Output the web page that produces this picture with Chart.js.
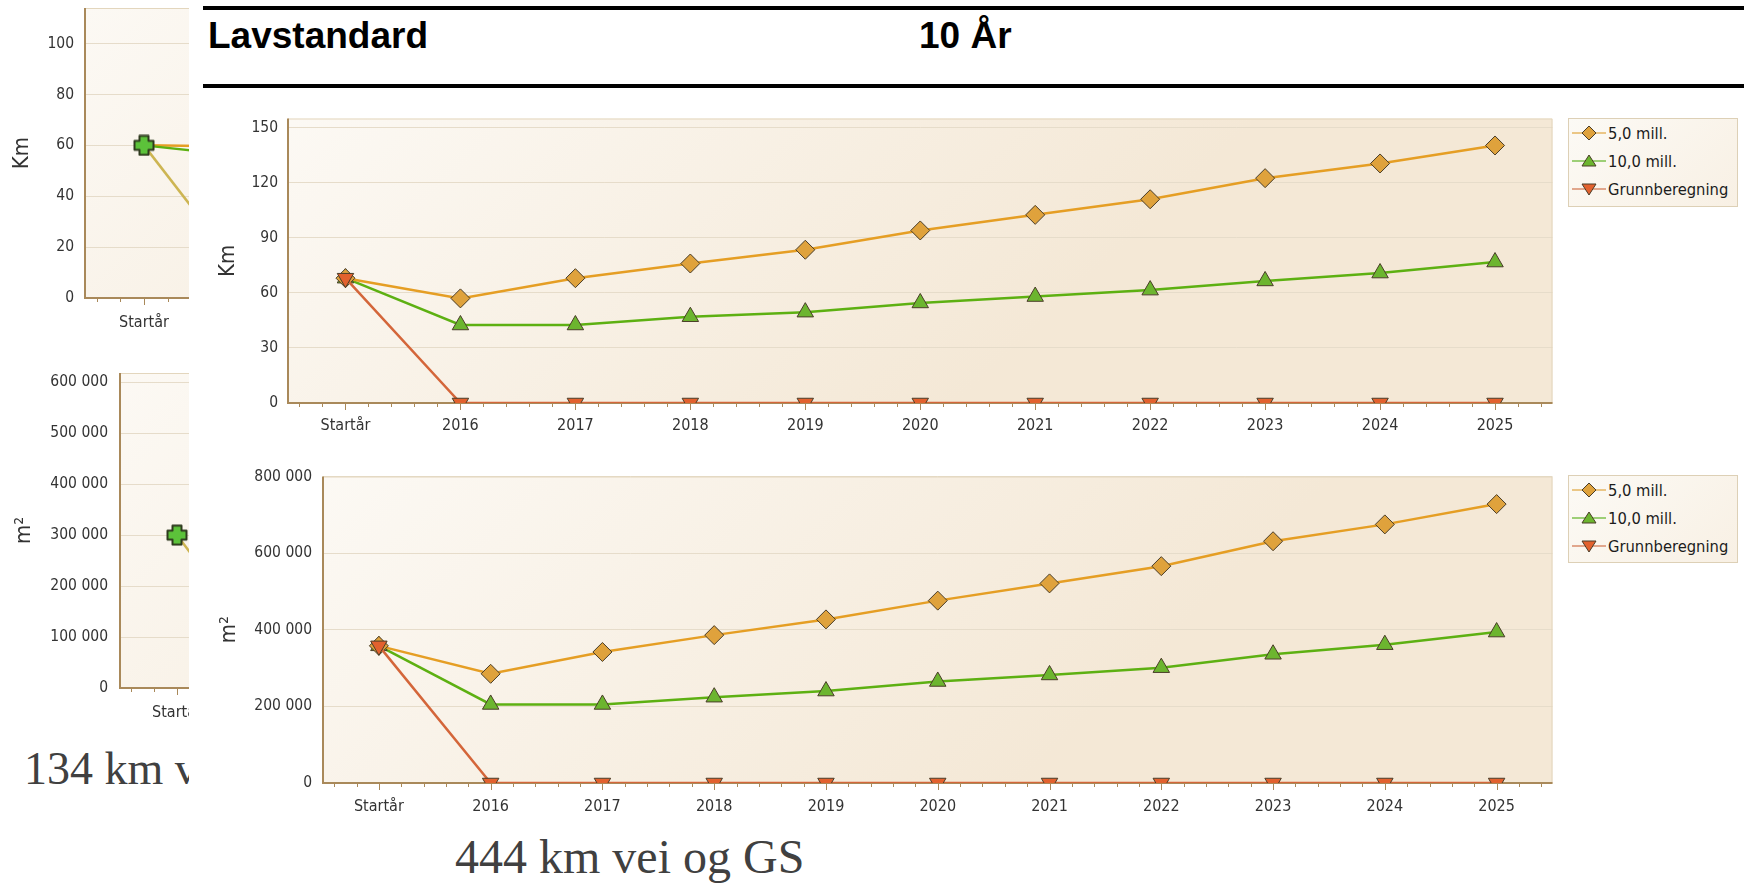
<!DOCTYPE html>
<html>
<head>
<meta charset="utf-8">
<script src="https://cdn.jsdelivr.net/npm/chart.js@4.4.0/dist/chart.umd.min.js"></script>
<style>
body { margin:0; width:1744px; height:883px; background:#fff; position:relative; overflow:hidden; font-family:'DejaVu Sans Condensed','DejaVu Sans',sans-serif; }
canvas { position:absolute; }
.rule { position:absolute; left:203px; right:0; height:4px; background:#000; }
.head { position:absolute; top:15px; font:bold 37px 'Liberation Sans',Arial,sans-serif; color:#000; white-space:nowrap; }
.legend { position:absolute; border:1px solid #DDD0B6; background:linear-gradient(135deg,#FCFAF5,#F8F0E4); box-sizing:border-box; }
.legend .item { display:flex; align-items:center; height:28px; font-size:16.4px; color:#1c1c1c; white-space:nowrap; }
.legend svg { margin-left:3px; margin-right:2px; }
.serif { position:absolute; font-family:'Liberation Serif','Times New Roman',serif; color:#404040; line-height:48px; white-space:nowrap; }
#leftClip { position:absolute; left:0; top:0; width:189px; height:883px; overflow:hidden; }
</style>
</head>
<body>
<div id="leftClip">
  <canvas id="leftKm" width="340" height="344" style="left:0;top:-4px"></canvas>
  <canvas id="leftM2" width="360" height="374" style="left:0;top:361px"></canvas>
  <div class="serif" style="left:24px;top:745px;font-size:46px">134 km v</div>
</div>

<div class="rule" style="top:6px"></div>
<div class="head" style="left:208px">Lavstandard</div>
<div class="head" style="left:919px">10 År</div>
<div class="rule" style="top:84px"></div>

<canvas id="kmChart" width="1360" height="337" style="left:203px;top:108px"></canvas>
<div class="legend" id="legend1" style="left:1568px;top:118px;width:170px;height:89px"></div>

<canvas id="m2Chart" width="1360" height="355" style="left:203px;top:466px"></canvas>
<div class="legend" id="legend2" style="left:1568px;top:475px;width:170px;height:88px"></div>

<div class="serif" style="left:455px;top:833px;font-size:48px">444 km vei og GS</div>

<script>
// categorieën (x-as)
const categories = ['Startår','2016','2017','2018','2019','2020','2021','2022','2023','2024','2025'];
const seriesNames = ['5,0 mill.','10,0 mill.','Grunnberegning'];

// bovenste grafiek: Km
const km5 = [68, 57, 68, 76, 83.5, 94, 102.5, 111, 122.5, 130.5, 140.3];
const km10 = [68, 42.5, 42.5, 47, 49.5, 54.5, 58, 61.5, 66.5, 70.8, 76.8];
const kmGrunn = [68, 0, 0, 0, 0, 0, 0, 0, 0, 0, 0];
const kmTicks = [0, 30, 60, 90, 120, 150];

// onderste grafiek: m²
const m2_5 = [358000, 285000, 342000, 386000, 427000, 476000, 521000, 566000, 631000, 675000, 728000];
const m2_10 = [358000, 205000, 205000, 224000, 240000, 265000, 282000, 301000, 336000, 361000, 394000];
const m2Grunn = [358000, 0, 0, 0, 0, 0, 0, 0, 0, 0, 0];
const m2Ticks = [0, 200000, 400000, 600000, 800000];

// de afgesneden grafieken links
const leftCategories = ['Startår','2016'];
const leftKm5 = [60, 59.5];
const leftKm10 = [60, 55];
const leftKmGrunn = [60, 0];
const leftKmTicks = [0, 20, 40, 60, 80, 100];
const leftM2Grunn = [300000, 0];
const leftM2Ticks = [0, 100000, 200000, 300000, 400000, 500000, 600000];

// kleuren
const orange = { line:'#E59E24', fill:'#DFA23C', pale:'#E6B662' };
const green = { line:'#5DB012', fill:'#6CB52F', pale:'#7EC24E' };
const red = { line:'#D4663A', fill:'#E2612E', pale:'#D98C6C' };
const olive = { line:'#CDB552', fill:'#CDB552', pale:'#CDB552' };

Chart.defaults.font.family = "'DejaVu Sans Condensed','DejaVu Sans',sans-serif";
Chart.defaults.color = '#333';

// getallen met spatie als duizendtal-scheiding
function spaced(v) {
  return String(v).replace(/\B(?=(\d{3})+(?!\d))/g, ' ');
}

// achtergrond, randen en kleine streepjes onder de x-as
const plotStyle = {
  id: 'plotStyle',
  beforeDraw(chart) {
    const a = chart.chartArea, ctx = chart.ctx;
    const g = ctx.createLinearGradient(a.left, a.top, a.left + (a.bottom - a.top) * 1.6, a.bottom + 200);
    g.addColorStop(0, '#FCF9F4');
    g.addColorStop(1, '#F4E8D6');
    ctx.save();
    ctx.fillStyle = g;
    ctx.fillRect(a.left, a.top, a.right - a.left, a.bottom - a.top);
    ctx.restore();
  },
  beforeDatasetsDraw(chart) {
    const a = chart.chartArea, ctx = chart.ctx;
    ctx.save();
    ctx.strokeStyle = '#E3D6BD';
    ctx.lineWidth = 1;
    ctx.beginPath();
    ctx.moveTo(a.left, a.top + 0.5);
    ctx.lineTo(a.right - 0.5, a.top + 0.5);
    ctx.lineTo(a.right - 0.5, a.bottom);
    ctx.stroke();
    ctx.strokeStyle = '#A9895A';
    ctx.lineWidth = 2;
    ctx.beginPath();
    ctx.moveTo(a.left, a.top);
    ctx.lineTo(a.left, a.bottom);
    ctx.lineTo(a.right, a.bottom);
    ctx.stroke();
    const x = chart.scales.x;
    const step = (x.getPixelForValue(1) - x.getPixelForValue(0)) / 5;
    ctx.lineWidth = 1;
    for (let i = 0; i < x.ticks.length; i++) {
      const px = x.getPixelForValue(i);
      for (let k = -2; k <= 2; k++) {
        const tx = Math.round(px + k * step) + 0.5;
        if (tx < a.left + 3 || tx > a.right) continue;
        ctx.beginPath();
        ctx.moveTo(tx, a.bottom);
        ctx.lineTo(tx, a.bottom + (k === 0 ? 7 : 4));
        ctx.stroke();
      }
    }
    ctx.restore();
  }
};

// groen plus-teken voor de linker grafieken
function plusMarker() {
  const c = document.createElement('canvas');
  c.width = 22; c.height = 22;
  const ctx = c.getContext('2d');
  const m = 11, w = 4.5, e = 9.5;
  ctx.beginPath();
  ctx.moveTo(m - w, m - e); ctx.lineTo(m + w, m - e); ctx.lineTo(m + w, m - w);
  ctx.lineTo(m + e, m - w); ctx.lineTo(m + e, m + w); ctx.lineTo(m + w, m + w);
  ctx.lineTo(m + w, m + e); ctx.lineTo(m - w, m + e); ctx.lineTo(m - w, m + w);
  ctx.lineTo(m - e, m + w); ctx.lineTo(m - e, m - w); ctx.lineTo(m - w, m - w);
  ctx.closePath();
  ctx.lineJoin = 'round';
  ctx.fillStyle = '#5CC23A';
  ctx.fill();
  ctx.strokeStyle = '#2E3A1E';
  ctx.lineWidth = 2;
  ctx.stroke();
  return c;
}

function serie(label, data, col, style, rotation, radius, order) {
  return {
    label: label,
    data: data,
    borderColor: col.line,
    backgroundColor: col.fill,
    pointBackgroundColor: col.fill,
    pointBorderColor: '#4A3D28',
    pointBorderWidth: 1,
    pointStyle: style,
    pointRotation: rotation,
    pointRadius: radius,
    pointHoverRadius: radius,
    borderWidth: 2.5,
    tension: 0,
    order: order,
    clip: { left: 20, top: 20, right: 20, bottom: 0 }
  };
}

function makeChart(id, cats, datasets, y) {
  return new Chart(document.getElementById(id), {
    type: 'line',
    data: { labels: cats, datasets: datasets },
    plugins: [plotStyle],
    options: {
      responsive: false,
      animation: false,
      layout: { padding: { top: y.padTop, right: y.padRight, left: 0, bottom: 0 } },
      plugins: { legend: { display: false }, tooltip: { enabled: false } },
      scales: {
        x: {
          offset: true,
          grid: { display: false, drawTicks: false },
          border: { display: false },
          ticks: { padding: y.xPad, font: { size: 16 }, maxRotation: 0, autoSkip: false },
          afterFit: s => { s.height = y.xHeight; s.paddingLeft = 0; s.paddingRight = 0; }
        },
        y: {
          min: 0,
          max: y.max,
          grid: { color: '#E6DCCA', drawTicks: false },
          border: { display: false },
          // kleine lineHeight zodat de labels de bovenmarge niet oprekken
          ticks: { padding: y.tickPad, font: { size: 15.5, lineHeight: 0.6 }, callback: v => spaced(v) },
          afterBuildTicks: s => { s.ticks = y.ticks.map(v => ({ value: v })); },
          title: { display: true, text: y.title, font: { size: 22 }, color: '#333', padding: { top: y.titlePad, bottom: 0 } },
          afterFit: s => { s.width = y.width; s.paddingTop = 0; s.paddingBottom = 0; }
        }
      }
    }
  });
}

// hoofdgrafiek Km
makeChart('kmChart', categories, [
  serie(seriesNames[2], kmGrunn, red, 'triangle', 180, 9.5, 0),
  serie(seriesNames[0], km5, orange, 'rectRot', 0, 9.5, 1),
  serie(seriesNames[1], km10, green, 'triangle', 0, 9.5, 2)
], { max: 155, ticks: kmTicks, title: 'Km', padTop: 8, padRight: 10, width: 85, xHeight: 42, xPad: 13, tickPad: 10, titlePad: 12 });

// hoofdgrafiek m²
makeChart('m2Chart', categories, [
  serie(seriesNames[2], m2Grunn, red, 'triangle', 180, 9.5, 0),
  serie(seriesNames[0], m2_5, orange, 'rectRot', 0, 9.5, 1),
  serie(seriesNames[1], m2_10, green, 'triangle', 0, 9.5, 2)
], { max: 800000, ticks: m2Ticks, title: 'm²', padTop: 10, padRight: 10, width: 120, xHeight: 38, xPad: 14, tickPad: 11, titlePad: 13 });

// linker grafieken (half zichtbaar)
const plus = plusMarker();
makeChart('leftKm', leftCategories, [
  serie('a', leftKm10, green, [plus, 'circle'], 0, [11, 0], 0),
  serie('b', leftKm5, orange, 'circle', 0, 0, 1),
  serie('c', leftKmGrunn, olive, 'circle', 0, 0, 2)
], { max: 114, ticks: leftKmTicks, title: 'Km', padTop: 7, padRight: 19, width: 85, xHeight: 42, xPad: 15, tickPad: 11, titlePad: 9 });

makeChart('leftM2', leftCategories, [
  serie('a', leftM2Grunn, olive, [plus, 'circle'], 0, [11, 0], 0)
], { max: 618000, ticks: leftM2Ticks, title: 'm²', padTop: 8, padRight: 8, width: 120, xHeight: 47, xPad: 15, tickPad: 12, titlePad: 11 });

// legenda's
const legendShapes = [
  { col: orange, pts: '17,1 24,8 17,15 10,8' },
  { col: green, pts: '17,2 24,13 10,13' },
  { col: red, pts: '10,3 24,3 17,14' }
];
['legend1', 'legend2'].forEach(id => {
  const box = document.getElementById(id);
  seriesNames.forEach((name, i) => {
    const s = legendShapes[i];
    const item = document.createElement('div');
    item.className = 'item';
    item.innerHTML = '<svg width="34" height="16"><line x1="0" y1="8" x2="34" y2="8" stroke="' + s.col.pale +
      '" stroke-width="1.6"/><polygon points="' + s.pts + '" fill="' + s.col.fill +
      '" stroke="#4A3D28" stroke-width="1"/></svg><span>' + name + '</span>';
    box.appendChild(item);
  });
});
</script>
</body>
</html>
